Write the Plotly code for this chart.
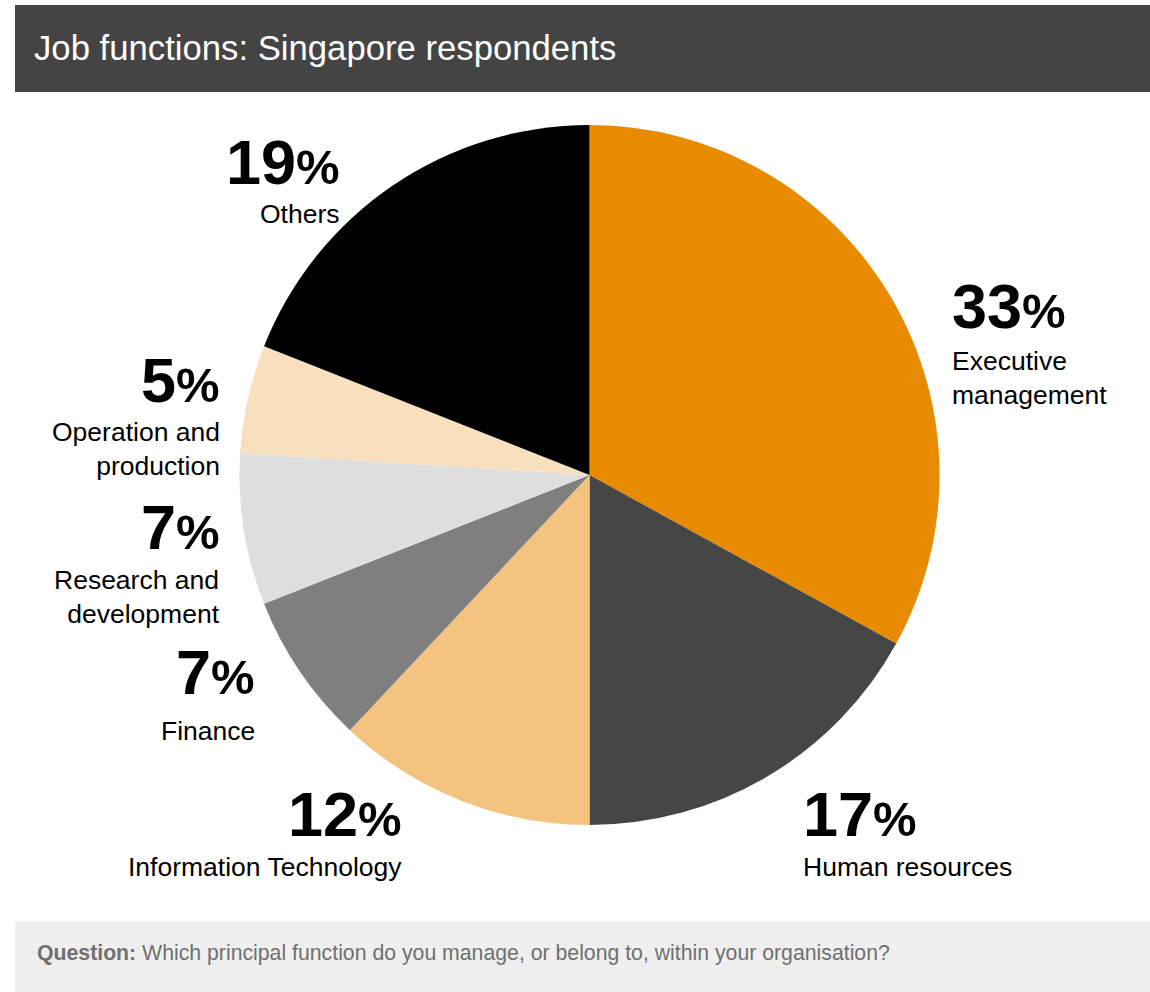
import plotly.graph_objects as go

# Survey shares by job function (percent), clockwise from 12 o'clock
functions = ["Executive management", "Human resources", "Information Technology",
             "Finance", "Research and development", "Operation and production", "Others"]
shares = [33, 17, 12, 7, 7, 5, 19]
slice_colors = ["#E98B00", "#464646", "#F4C37F", "#7F7F7F", "#DEDEDE", "#F8E0BE", "#000000"]

# Display names for the callouts (line-broken)
callout_names = ["Executive<br>management", "Human resources", "Information Technology",
                 "Finance", "Research and<br>development", "Operation and<br>production", "Others"]

W, H = 1150, 992
FONT = "Liberation Sans, Arial, sans-serif"

# Callout anchor (pixel x, number centre y, name centre y, alignment)
callout_layout = [
    (950, 306, 378, "left"),
    (801, 814, 867, "left"),
    (404, 814, 867, "right"),
    (257, 672, 731, "right"),
    (222, 527, 597, "right"),
    (222, 380, 449, "right"),
    (342, 162, 214, "right"),
]

def px(x):
    return x / W

def py(y):
    return 1 - y / H

fig = go.Figure()

cx, cy, r = 589.5, 475, 350
fig.add_trace(go.Pie(
    labels=functions,
    values=shares,
    sort=False,
    direction="clockwise",
    rotation=0,
    marker=dict(colors=slice_colors, line=dict(width=0)),
    textinfo="none",
    hoverinfo="label+percent",
    showlegend=False,
    domain=dict(x=[px(cx - r), px(cx + r)], y=[py(cy + r), py(cy - r)]),
))

annotations = []
for val, name, (x, ny, ly, align) in zip(shares, callout_names, callout_layout):
    anchor = "left" if align == "left" else "right"
    annotations.append(dict(
        x=px(x), y=py(ny), xref="paper", yref="paper",
        xanchor=anchor, yanchor="middle", showarrow=False, align=align,
        text=f"<b>{val}<span style='font-size:49px'>%</span></b>",
        font=dict(family=FONT, size=63, color="#000000"),
    ))
    annotations.append(dict(
        x=px(x), y=py(ly), xref="paper", yref="paper",
        xanchor=anchor, yanchor="middle", showarrow=False, align=align,
        text=name,
        font=dict(family=FONT, size=26.5, color="#000000"),
    ))

# Header text
annotations.append(dict(
    x=px(32), y=py(48), xref="paper", yref="paper",
    xanchor="left", yanchor="middle", showarrow=False,
    text="Job functions: Singapore respondents",
    font=dict(family=FONT, size=34.7, color="#FFFFFF"),
))
# Footer question
annotations.append(dict(
    x=px(35), y=py(953), xref="paper", yref="paper",
    xanchor="left", yanchor="middle", showarrow=False,
    text="<b>Question:</b> Which principal function do you manage, or belong to, within your organisation?",
    font=dict(family=FONT, size=21.25, color="#707070"),
))

shapes = [
    dict(type="rect", xref="paper", yref="paper", layer="below",
         x0=px(15), x1=px(1150), y0=py(92), y1=py(5),
         fillcolor="#444444", line=dict(width=0)),
    dict(type="rect", xref="paper", yref="paper", layer="below",
         x0=px(15), x1=px(1150), y0=py(992), y1=py(921),
         fillcolor="#EFEFEF", line=dict(width=0)),
]

fig.update_layout(
    width=W, height=H,
    margin=dict(l=0, r=0, t=0, b=0),
    paper_bgcolor="#FFFFFF",
    plot_bgcolor="#FFFFFF",
    annotations=annotations,
    shapes=shapes,
)

fig.write_html("out.html")
